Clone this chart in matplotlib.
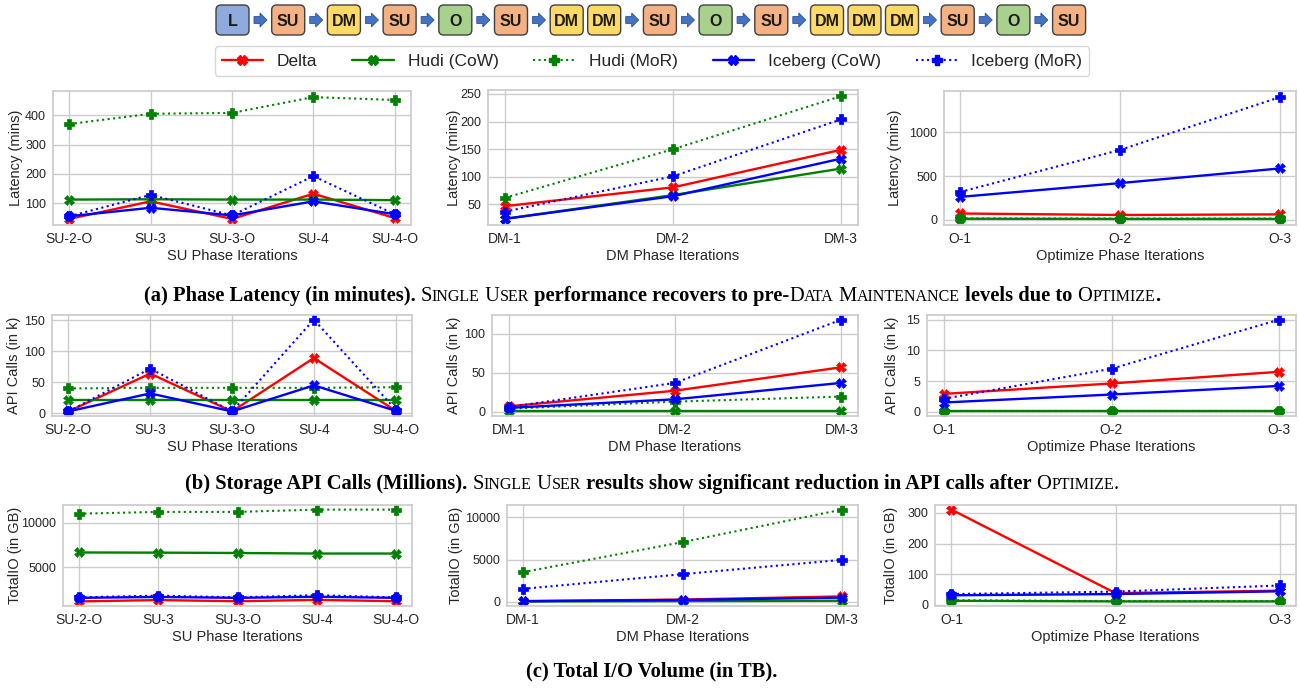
import numpy as np
import matplotlib
matplotlib.use("Agg")
import matplotlib.pyplot as plt
import seaborn as sns
from matplotlib.patches import FancyBboxPatch, FancyArrow
from matplotlib.lines import Line2D
from matplotlib.ticker import MultipleLocator

sns.set_theme(style="whitegrid")
plt.rcParams['font.family'] = ['Liberation Sans', 'DejaVu Sans']

# --- data ---
su_labels = ["SU-2-O", "SU-3", "SU-3-O", "SU-4", "SU-4-O"]
dm_labels = ["DM-1", "DM-2", "DM-3"]
o_labels = ["O-1", "O-2", "O-3"]

formats = ["Delta", "Hudi (CoW)", "Hudi (MoR)", "Iceberg (CoW)", "Iceberg (MoR)"]
flow = ["L", "SU", "DM", "SU", "O", "SU", "DM", "DM", "SU", "O", "SU",
        "DM", "DM", "DM", "SU", "O", "SU"]

lat_su_delta = [46, 106, 46, 132, 49]
lat_su_hudi_cow = [112, 113, 112, 112, 110]
lat_su_hudi_mor = [370, 405, 408, 462, 452]
lat_su_ice_cow = [55, 84, 58, 106, 62]
lat_su_ice_mor = [55, 128, 58, 192, 62]

lat_dm_delta = [47, 81, 149]
lat_dm_hudi_cow = [24, 67, 115]
lat_dm_hudi_mor = [62, 150, 246]
lat_dm_ice_cow = [24, 65, 133]
lat_dm_ice_mor = [37, 101, 204]

lat_o_delta = [72, 55, 62]
lat_o_hudi_cow = [12, 10, 10]
lat_o_hudi_mor = [15, 14, 14]
lat_o_ice_cow = [262, 420, 588]
lat_o_ice_mor = [318, 800, 1405]

api_su_delta = [3, 64, 3, 89, 4]
api_su_hudi_cow = [21, 21, 21, 21, 21]
api_su_hudi_mor = [40, 41, 41, 41, 42]
api_su_ice_cow = [3, 32, 3, 45, 4]
api_su_ice_mor = [3, 72, 3, 151, 6]

api_dm_delta = [7, 27, 57]
api_dm_hudi_cow = [0.5, 0.5, 0.5]
api_dm_hudi_mor = [4, 13, 19.5]
api_dm_ice_cow = [5, 16, 37]
api_dm_ice_mor = [6, 37, 118]

api_o_delta = [2.9, 4.6, 6.5]
api_o_hudi_cow = [0.05, 0.05, 0.05]
api_o_hudi_mor = [0.08, 0.08, 0.08]
api_o_ice_cow = [1.5, 2.8, 4.2]
api_o_ice_mor = [2.1, 7.0, 15.0]

io_su_delta = [1200, 1350, 1220, 1370, 1220]
io_su_hudi_cow = [6680, 6660, 6620, 6560, 6560]
io_su_hudi_mor = [11020, 11220, 11220, 11480, 11480]
io_su_ice_cow = [1600, 1700, 1600, 1720, 1600]
io_su_ice_mor = [1650, 1850, 1650, 1900, 1650]

io_dm_delta = [60, 250, 620]
io_dm_hudi_cow = [30, 70, 110]
io_dm_hudi_mor = [3500, 7060, 10920]
io_dm_ice_cow = [60, 200, 480]
io_dm_ice_mor = [1520, 3260, 4960]

io_o_delta = [311, 38, 46]
io_o_hudi_cow = [13, 11, 11]
io_o_hudi_mor = [15, 12, 12]
io_o_ice_cow = [31, 35, 44]
io_o_ice_mor = [35, 43, 63]

# --- styles ---
colors = ["red", "green", "green", "blue", "blue"]
styles = ["-", "-", ":", "-", ":"]
markers = ["X", "X", "P", "X", "P"]
widths = [1.7, 1.7, 1.5, 1.7, 1.5]
box_colors = {"L": "#8faadc", "SU": "#f4b183", "DM": "#ffd966", "O": "#a9d18e"}

W, H = 1299, 688
fig = plt.figure(figsize=(W / 100, H / 100), dpi=100)


def px_axes(l, t, r, b):
    return fig.add_axes([l / W, 1 - b / H, (r - l) / W, (b - t) / H])


panels = [
    # (pixel box, ylabel centre x, xlabels, series, ylabel, xlabel, tick step)
    ((53, 91, 411, 225), 16, su_labels,
     [lat_su_delta, lat_su_hudi_cow, lat_su_hudi_mor, lat_su_ice_cow, lat_su_ice_mor],
     "Latency (mins)", "SU Phase Iterations", 100),
    ((488, 90, 858, 225), 454, dm_labels,
     [lat_dm_delta, lat_dm_hudi_cow, lat_dm_hudi_mor, lat_dm_ice_cow, lat_dm_ice_mor],
     "Latency (mins)", "DM Phase Iterations", 50),
    ((944, 91, 1296, 225), 895, o_labels,
     [lat_o_delta, lat_o_hudi_cow, lat_o_hudi_mor, lat_o_ice_cow, lat_o_ice_mor],
     "Latency (mins)", "Optimize Phase Iterations", 500),
    ((52, 315, 412, 416), 14, su_labels,
     [api_su_delta, api_su_hudi_cow, api_su_hudi_mor, api_su_ice_cow, api_su_ice_mor],
     "API Calls (in k)", "SU Phase Iterations", 50),
    ((492, 315, 858, 416), 454, dm_labels,
     [api_dm_delta, api_dm_hudi_cow, api_dm_hudi_mor, api_dm_ice_cow, api_dm_ice_mor],
     "API Calls (in k)", "DM Phase Iterations", 50),
    ((927, 315, 1296, 416), 892, o_labels,
     [api_o_delta, api_o_hudi_cow, api_o_hudi_mor, api_o_ice_cow, api_o_ice_mor],
     "API Calls (in k)", "Optimize Phase Iterations", 5),
    ((63, 505, 412, 606), 15, su_labels,
     [io_su_delta, io_su_hudi_cow, io_su_hudi_mor, io_su_ice_cow, io_su_ice_mor],
     "TotalIO (in GB)", "SU Phase Iterations", 5000),
    ((507, 505, 858, 606), 456, dm_labels,
     [io_dm_delta, io_dm_hudi_cow, io_dm_hudi_mor, io_dm_ice_cow, io_dm_ice_mor],
     "TotalIO (in GB)", "DM Phase Iterations", 5000),
    ((935, 505, 1296, 606), 891, o_labels,
     [io_o_delta, io_o_hudi_cow, io_o_hudi_mor, io_o_ice_cow, io_o_ice_mor],
     "TotalIO (in GB)", "Optimize Phase Iterations", 100),
]

for box, ylx, labels, series, ylab, xlab, step in panels:
    ax = px_axes(*box)
    x = np.arange(len(labels))
    for i, vals in enumerate(series):
        ax.plot(x, vals, color=colors[i], linestyle=styles[i], marker=markers[i],
                lw=widths[i], markersize=6.5, markeredgewidth=0.5)
    ax.set_xticks(x)
    ax.set_xticklabels(labels)
    ax.yaxis.set_major_locator(MultipleLocator(step))
    ax.set_ylabel(ylab, fontsize=10.5)
    # label anchor is its right edge; put centre at ylx
    ax.yaxis.set_label_coords((ylx + 7 - box[0]) / (box[2] - box[0]), 0.5)
    ax.set_xlabel(xlab, fontsize=10.5, labelpad=2)
    ax.tick_params(axis="x", labelsize=10, length=0, pad=5, colors=".15")
    ax.tick_params(axis="y", labelsize=9, length=0, pad=5, colors=".15")
    for s in ax.spines.values():
        s.set_color(".8")

# legend
handles = [Line2D([], [], color=colors[i], linestyle=styles[i], marker=markers[i],
                  lw=widths[i], markersize=6.5) for i in range(5)]
fig.legend(handles, formats, loc="center", bbox_to_anchor=(652 / W, 1 - 61 / H),
           ncol=5, fontsize=12.5, frameon=True, edgecolor=".8", handlelength=2.4,
           columnspacing=2.0, borderpad=0.4)

# phase flow diagram on top
over = fig.add_axes([0, 0, 1, 1], zorder=-1)
over.set_xlim(0, W)
over.set_ylim(H, 0)
over.axis("off")
bw, bh, top = 33, 30, 5
xpos = 216
for i, ph in enumerate(flow):
    over.add_patch(FancyBboxPatch((xpos, top), bw, bh, boxstyle="round,pad=0,rounding_size=5",
                                  fc=box_colors[ph], ec="#404040", lw=1))
    over.text(xpos + bw / 2, top + bh / 2 + 1, ph, ha="center", va="center",
              fontsize=11.5, fontweight="bold", color="#1a1a1a")
    xpos += bw
    if i < len(flow) - 1:
        if ph == "DM" and flow[i + 1] == "DM":
            xpos += 4.5
        else:
            over.add_patch(FancyArrow(xpos + 5, top + bh / 2, 13, 0, width=7, head_width=14,
                                      head_length=7, length_includes_head=True,
                                      fc="#4472c4", ec="#2f5597", lw=0.6))
            xpos += 22.7


# captions with small caps
def caption(y_px, segments, size):
    r = fig.canvas.get_renderer()
    runs = []
    for txt, st in segments:
        if st == "b":
            runs.append((txt, size, "bold"))
            continue
        buf, cur = "", None
        for ch in txt:
            kind = "low" if ch.islower() else "up"
            if buf and kind != cur:
                runs.append((buf.upper(), size * 0.78 if cur == "low" else size, "normal"))
                buf = ""
            cur = kind
            buf += ch
        if buf:
            runs.append((buf.upper(), size * 0.78 if cur == "low" else size, "normal"))

    def width(s, sz, wt):
        t1 = fig.text(0, 0, "|" + s + "|", fontsize=sz, fontweight=wt, family="Liberation Serif")
        t2 = fig.text(0, 0, "||", fontsize=sz, fontweight=wt, family="Liberation Serif")
        w = t1.get_window_extent(r).width - t2.get_window_extent(r).width
        t1.remove()
        t2.remove()
        return w

    ws = [width(s, sz, wt) for s, sz, wt in runs]
    xx = 652 - sum(ws) / 2
    for (s, sz, wt), w in zip(runs, ws):
        fig.text(xx / W, 1 - y_px / H, s, fontsize=sz, fontweight=wt,
                 family="Liberation Serif", va="baseline", ha="left", color="black")
        xx += w


caption(301, [("(a) Phase Latency (in minutes). ", "b"), ("Single User", "sc"),
              (" performance recovers to pre-", "b"), ("Data Maintenance", "sc"),
              (" levels due to ", "b"), ("Optimize", "sc"), (".", "b")], 14.8)
caption(489, [("(b) Storage API Calls (Millions). ", "b"), ("Single User", "sc"),
              (" results show significant reduction in API calls after ", "b"),
              ("Optimize.", "sc")], 14.8)
caption(676, [("(c) Total I/O Volume (in TB).", "b")], 14.8)

fig.savefig("out.png", dpi=100)
